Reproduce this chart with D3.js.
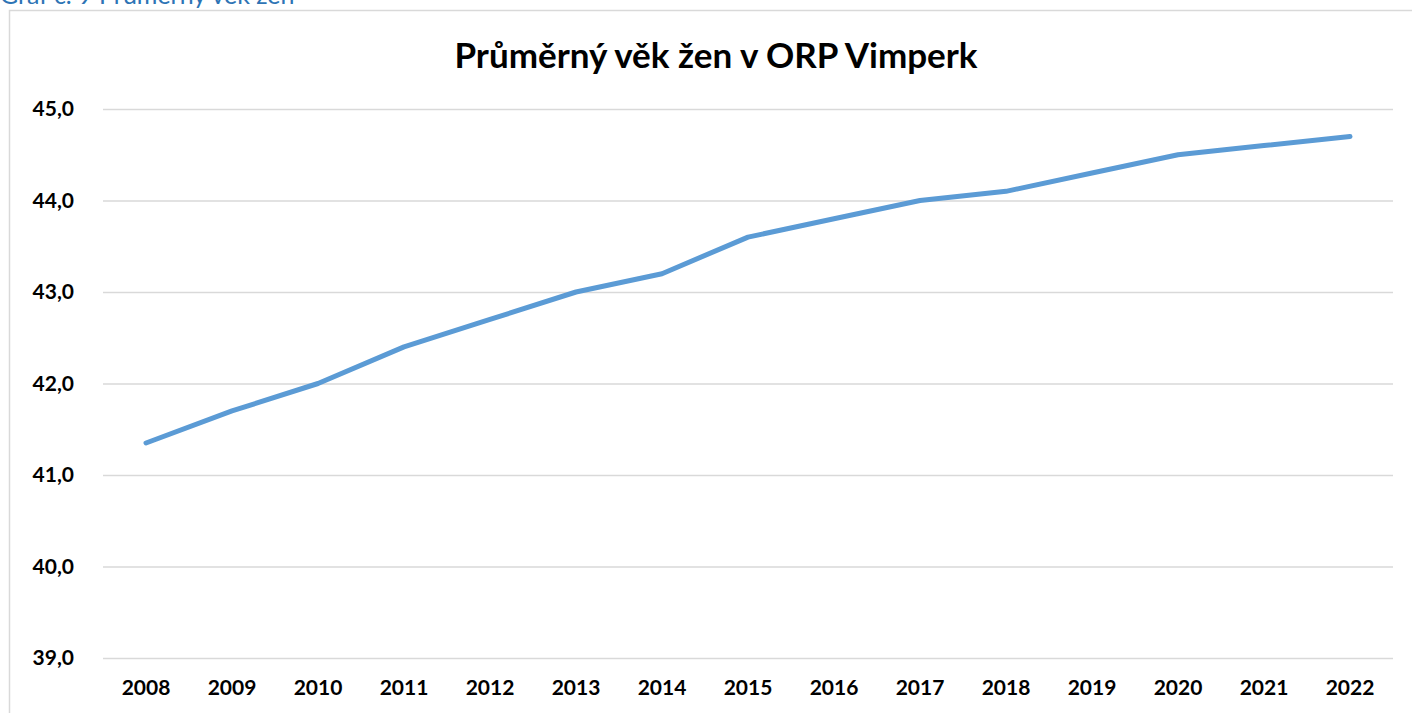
<!DOCTYPE html>
<html>
<head>
<meta charset="utf-8">
<script src="https://cdn.jsdelivr.net/npm/d3@7"></script>
<style>
  body { margin: 0; background: #fff; }
  svg { display: block; }
  .tick text { font-family: Lato, "Open Sans", sans-serif; font-weight: bold; font-size: 21px; fill: #000; }
</style>
</head>
<body>
<svg></svg>
<script>
// data
var years = ['2008','2009','2010','2011','2012','2013','2014','2015','2016','2017','2018','2019','2020','2021','2022'];
var avg_age = [41.35, 41.7, 42.0, 42.4, 42.7, 43.0, 43.2, 43.6, 43.8, 44.0, 44.1, 44.3, 44.5, 44.6, 44.7];
var y_ticks = [39, 40, 41, 42, 43, 44, 45];
var chart_title = 'Průměrný věk žen v ORP Vimperk';
var caption = 'Graf č. 9 Průměrný věk žen';

var svg_w = 1412, svg_h = 713;
var pad_left = 103, pad_right = 19, pad_top = 109, pad_bottom = 55; // plot area

var svg = d3.select('svg').attr('width', svg_w).attr('height', svg_h);

// chart frame (cut off at the right and bottom like the source)
svg.append('rect').attr('x', 9.5).attr('y', 10.5)
  .attr('width', 1420).attr('height', 720)
  .attr('fill', 'none').attr('stroke', '#d9d9d9').attr('stroke-width', 1.5);

// caption above the frame, mostly cropped
svg.append('text').attr('x', 0).attr('y', 4).text(caption)
  .attr('font-family', 'Lato, "Open Sans", sans-serif').attr('font-size', 25)
  .attr('fill', '#2e74b5');

var x_scale = d3.scaleBand().domain(years)
  .range([pad_left, svg_w - pad_right]);
var y_scale = d3.scaleLinear().domain([39, 45])
  .range([svg_h - pad_bottom, pad_top]);

// gridlines + y labels
var y_axis = d3.axisLeft(y_scale).tickValues(y_ticks)
  .tickSize(-(svg_w - pad_left - pad_right))
  .tickFormat(function(d){ return d3.format('.1f')(d).replace('.', ','); });
var gy = svg.append('g').attr('transform', 'translate(' + pad_left + ',0)').call(y_axis);
gy.select('.domain').remove();
gy.selectAll('.tick line').attr('stroke', '#d9d9d9').attr('stroke-width', 1.5);
gy.selectAll('.tick text').attr('x', -29).attr('text-anchor', 'end');

// x labels
var x_axis = d3.axisBottom(x_scale).tickSize(0);
var gx = svg.append('g').attr('transform', 'translate(0,' + (svg_h - pad_bottom) + ')').call(x_axis);
gx.select('.domain').remove();
gx.selectAll('.tick text').attr('dy', '0').attr('y', 37);

// line
var line = d3.line()
  .x(function(d, i){ return x_scale(years[i]) + x_scale.bandwidth() / 2; })
  .y(function(d){ return y_scale(d); });
svg.append('path').datum(avg_age)
  .attr('d', line).attr('fill', 'none')
  .attr('stroke', '#5b9bd5').attr('stroke-width', 5)
  .attr('stroke-linecap', 'round').attr('stroke-linejoin', 'round');

// title
svg.append('text').attr('x', 716).attr('y', 68).attr('text-anchor', 'middle')
  .attr('font-family', 'Lato, "Open Sans", sans-serif').attr('font-weight', 'bold')
  .attr('font-size', 35).text(chart_title);
</script>
</body>
</html>
